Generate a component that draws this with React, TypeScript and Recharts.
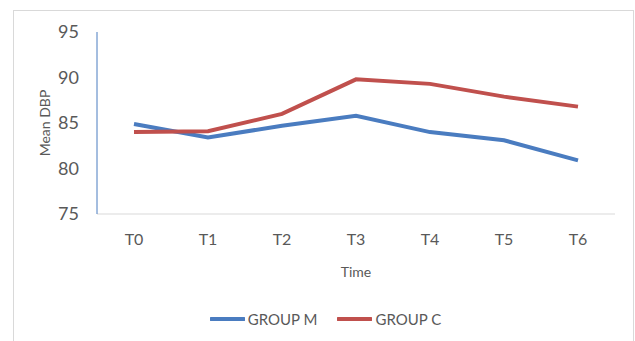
import React from 'react';
import { LineChart, Line, XAxis, YAxis, Legend } from 'recharts';

const categories = ['T0', 'T1', 'T2', 'T3', 'T4', 'T5', 'T6'];
const groupM = [84.9, 83.4, 84.7, 85.8, 84.0, 83.1, 80.9];
const groupC = [84.0, 84.1, 86.0, 89.8, 89.3, 87.9, 86.8];
const yTicks = [75, 80, 85, 90, 95];

const data = categories.map((t, i) => ({ time: t, m: groupM[i], c: groupC[i] }));

const FONT = 'Lato, "Open Sans", sans-serif';
const TEXT = '#595959';
const BLUE = '#4a7cc0';
const RED = '#c0504d';

const renderLegend = () => (
  <div style={{ display: 'flex', justifyContent: 'center', alignItems: 'center', paddingLeft: 16, fontFamily: FONT, fontSize: 15, color: TEXT }}>
    <div style={{ display: 'flex', alignItems: 'center', marginRight: 20 }}>
      <svg width={35} height={6}><line x1={1} y1={3} x2={34} y2={3} stroke={BLUE} strokeWidth={4} strokeLinecap="round" /></svg>
      <span style={{ marginLeft: 3 }}>GROUP M</span>
    </div>
    <div style={{ display: 'flex', alignItems: 'center' }}>
      <svg width={35} height={6}><line x1={1} y1={3} x2={34} y2={3} stroke={RED} strokeWidth={4} strokeLinecap="round" /></svg>
      <span style={{ marginLeft: 3 }}>GROUP C</span>
    </div>
  </div>
);

export default function App() {
  return (
    <div style={{ position: 'absolute', left: 0, top: 0, width: 635, height: 341, background: '#fff', overflow: 'hidden' }}>
      <div style={{ position: 'absolute', left: 13, top: 10, width: 619, height: 345, border: '1px solid #d9d9d9' }} />
      <div style={{ position: 'absolute', left: 0, top: 0 }}>
        <LineChart width={635} height={341} data={data} margin={{ top: 32, right: 20, left: 17, bottom: 63 }}>
          <XAxis
            dataKey="time"
            scale="band"
            height={64}
            tickLine={false}
            tickSize={0}
            tickMargin={20}
            axisLine={{ stroke: '#d9d9d9', strokeWidth: 1 }}
            tick={{ fill: TEXT, fontSize: 16, fontFamily: FONT }}
            label={{ value: 'Time', position: 'insideBottom', offset: 1, fill: TEXT, fontSize: 14, fontFamily: FONT }}
          />
          <YAxis
            width={80}
            domain={[75, 95]}
            ticks={yTicks}
            tickLine={false}
            tickSize={0}
            tickMargin={18}
            axisLine={{ stroke: '#4a7cc0', strokeWidth: 1 }}
            tick={{ fill: TEXT, fontSize: 18, fontFamily: FONT }}
            label={{ value: 'Mean DBP', angle: -90, position: 'insideLeft', offset: 28, fill: TEXT, fontSize: 14, fontFamily: FONT, style: { textAnchor: 'middle' } }}
          />
          <Legend verticalAlign="middle" layout="horizontal" content={renderLegend} wrapperStyle={{ position: 'absolute', top: 310, left: 0, width: 635 }} />
          <Line type="linear" dataKey="m" name="GROUP M" stroke={BLUE} strokeWidth={4} dot={false} isAnimationActive={false} />
          <Line type="linear" dataKey="c" name="GROUP C" stroke={RED} strokeWidth={4} dot={false} isAnimationActive={false} />
        </LineChart>
      </div>
    </div>
  );
}
